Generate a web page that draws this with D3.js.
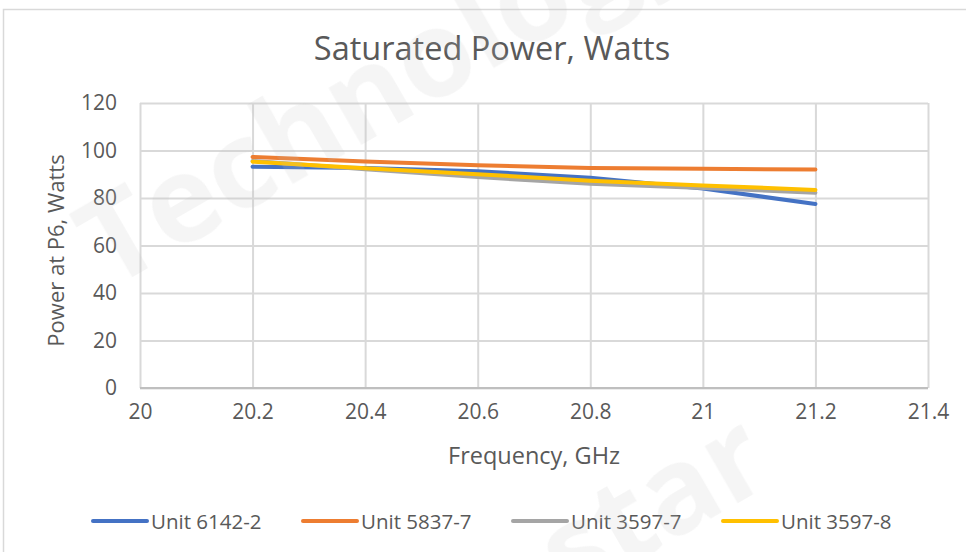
<!DOCTYPE html>
<html>
<head>
<meta charset="utf-8">
<script src="https://cdn.jsdelivr.net/npm/d3@7"></script>
<style>
  body { margin: 0; background: #fff; }
  svg { display: block; font-family: "Open Sans", sans-serif; }
</style>
</head>
<body>
<svg id="drawing_region"></svg>
<script>
// frequencies (GHz) and series values (W)
const freqs = [20.2, 20.4, 20.6, 20.8, 21.0, 21.2];
const unit6142_2 = [93.2, 92.6, 91.3, 88.5, 84.0, 77.5];
const unit5837_7 = [97.3, 95.4, 93.8, 92.6, 92.3, 92.0];
const unit3597_7 = [95.6, 92.1, 88.8, 86.0, 84.2, 82.2];
const unit3597_8 = [95.3, 92.5, 90.0, 87.3, 85.3, 83.4];
const seriesNames = ["Unit 6142-2", "Unit 5837-7", "Unit 3597-7", "Unit 3597-8"];
const seriesColors = ["#4472C4", "#ED7D31", "#A5A5A5", "#FFC000"];
const xTicks = [20, 20.2, 20.4, 20.6, 20.8, 21, 21.2, 21.4];
const yTicks = [0, 20, 40, 60, 80, 100, 120];

const config = {
    parent: '#drawing_region',
    width: 966,
    height: 552,
    margin: {top: 103, right: 38, bottom: 164, left: 140}
};

const svg = d3.select(config.parent)
    .attr('width', config.width)
    .attr('height', config.height);

// chart frame
svg.append('rect')
    .attr('x', 3.5).attr('y', 9.5)
    .attr('width', 980).attr('height', 560)
    .attr('fill', '#fff')
    .attr('stroke', '#d9d9d9')
    .attr('stroke-width', 1.5);

const innerW = config.width - config.margin.left - config.margin.right;
const innerH = config.height - config.margin.top - config.margin.bottom;

const xScale = d3.scaleLinear().domain([20, 21.4]).range([0, innerW]);
const yScale = d3.scaleLinear().domain([0, 120]).range([innerH, 0]);

const chart = svg.append('g')
    .attr('transform', `translate(${config.margin.left}, ${config.margin.top})`);

// gridlines
chart.append('g')
    .call(d3.axisLeft(yScale).tickValues(yTicks).tickSize(-innerW).tickFormat(''))
    .call(g => g.select('.domain').remove())
    .call(g => g.selectAll('line').attr('stroke', '#d9d9d9').attr('stroke-width', 2));

chart.append('g')
    .call(d3.axisBottom(xScale).tickValues(xTicks).tickSize(innerH).tickFormat(''))
    .call(g => g.select('.domain').remove())
    .call(g => g.selectAll('line').attr('stroke', '#d9d9d9').attr('stroke-width', 2));

// x axis line
chart.append('line')
    .attr('x1', 0).attr('x2', innerW)
    .attr('y1', innerH).attr('y2', innerH)
    .attr('stroke', '#bfbfbf').attr('stroke-width', 2);

// tick labels
chart.append('g')
    .attr('transform', `translate(0, ${innerH})`)
    .call(d3.axisBottom(xScale).tickValues(xTicks).tickSize(0).tickPadding(16).tickFormat(d3.format('')))
    .call(g => g.select('.domain').remove())
    .call(g => g.selectAll('text').attr('fill', '#595959').style('font-size', '21px').style('font-family', '"Open Sans", sans-serif'));

chart.append('g')
    .call(d3.axisLeft(yScale).tickValues(yTicks).tickSize(0).tickPadding(23))
    .call(g => g.select('.domain').remove())
    .call(g => g.selectAll('text').attr('fill', '#595959').style('font-size', '21px').style('font-family', '"Open Sans", sans-serif'));

// series lines
const allSeries = [unit6142_2, unit5837_7, unit3597_7, unit3597_8];
const line = d3.line()
    .x((d, i) => xScale(freqs[i]))
    .y(d => yScale(d));

allSeries.forEach((vals, k) => {
    chart.append('path')
        .datum(vals)
        .attr('d', line)
        .attr('fill', 'none')
        .attr('stroke', seriesColors[k])
        .attr('stroke-width', 4)
        .attr('stroke-linecap', 'round')
        .attr('stroke-linejoin', 'round');
});

// titles
svg.append('text')
    .attr('x', 492).attr('y', 60)
    .attr('text-anchor', 'middle')
    .attr('fill', '#595959')
    .style('font-size', '32.5px')
    .text('Saturated Power, Watts');

svg.append('text')
    .attr('x', config.margin.left + xScale(20.7)).attr('y', 464)
    .attr('text-anchor', 'middle')
    .attr('fill', '#595959')
    .style('font-size', '23.5px')
    .text('Frequency, GHz');

svg.append('text')
    .attr('transform', `translate(64, ${config.margin.top + innerH / 2 + 5}) rotate(-90)`)
    .attr('text-anchor', 'middle')
    .attr('fill', '#595959')
    .style('font-size', '22px')
    .text('Power at P6, Watts');

// legend
const legendX = [93, 303, 513, 723];
const legend = svg.append('g').attr('transform', 'translate(0, 521)');
seriesNames.forEach((name, k) => {
    const g = legend.append('g').attr('transform', `translate(${legendX[k]}, 0)`);
    g.append('line')
        .attr('x1', 0).attr('x2', 54)
        .attr('y1', 0).attr('y2', 0)
        .attr('stroke', seriesColors[k])
        .attr('stroke-width', 4)
        .attr('stroke-linecap', 'round');
    g.append('text')
        .attr('x', 58).attr('y', 7.5)
        .attr('fill', '#595959')
        .style('font-size', '20.5px')
        .text(name);
});

// faint watermark
const wm = svg.append('g')
    .attr('fill', '#bfbfbf')
    .attr('opacity', 0.16)
    .style('font-weight', 'bold')
    .style('font-size', '120px');
wm.append('text')
    .attr('transform', 'translate(110, 290) rotate(-30)')
    .text('Technology');
wm.append('text')
    .attr('transform', 'translate(570, 600) rotate(-30)')
    .text('star');
</script>
</body>
</html>
